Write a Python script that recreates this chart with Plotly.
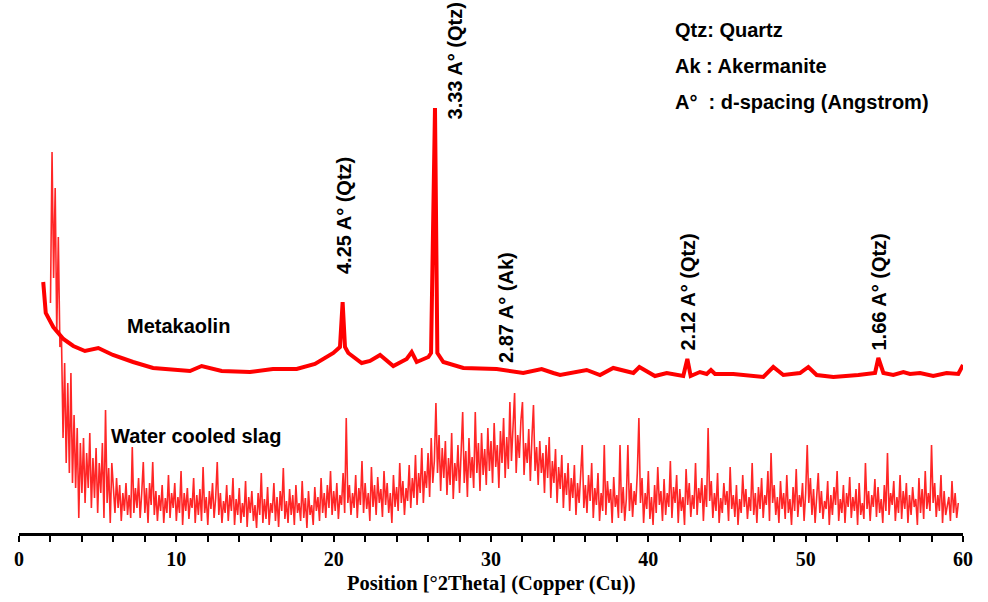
import numpy as np
import plotly.graph_objects as go

# ---- Metakaolin pattern (2Theta, intensity a.u.) ----
mk_x = [1.54, 1.70, 2.18, 2.82, 3.45, 4.19, 5.04, 5.97, 7.25, 8.52,
        10.87, 11.61, 12.88, 14.68, 16.14, 17.65, 18.81, 19.98, 20.40, 20.57,
        20.72, 20.93, 21.78, 22.31, 22.95, 23.79, 24.64, 24.96, 25.28, 26.02,
        26.19, 26.44, 26.59, 26.97, 28.24, 30.36, 32.05, 33.22, 33.96, 34.39,
        36.08, 36.93, 37.77, 39.05, 39.43, 40.42, 41.17, 42.22, 42.48, 42.69,
        43.28, 43.71, 43.98, 44.24, 45.40, 47.31, 47.94, 48.58, 49.64, 50.17,
        50.70, 51.76, 53.35, 54.41, 54.62, 54.94, 55.57, 56.21, 56.63, 57.27,
        58.11, 58.96, 59.70, 60.0]
mk_y = [251, 220, 206, 194, 187, 182, 185, 178, 171, 165,
        162, 167, 162, 161, 164, 164, 169, 180, 186, 231,
        186, 180, 170, 172, 178, 167, 174, 181, 171, 176,
        180, 425, 180, 171, 165, 164, 160, 164, 160, 158,
        163, 158, 165, 160, 166, 157, 160, 157, 174, 157,
        161, 159, 163, 159, 159, 156, 166, 158, 160, 166,
        158, 156, 158, 160, 175, 160, 158, 161, 159, 160,
        157, 160, 159, 168]

# ---- Water cooled slag pattern: scan start 2.0 deg, step 0.1 deg ----
slag_start = 2.0
slag_step = 0.1
slag_y = [
    230, 381, 255, 345, 200, 296, 186, 195, 95, 170,     # 2
    70, 150, 60, 160, 50, 118, 45, 105, 15, 90,          # 3
    40, 95, 30, 80, 45, 100, 25, 75, 35, 85,             # 4
    20, 70, 40, 90, 15, 123, 30, 65, 10, 70,             # 5
    45, 20, 55, 25, 48, 12, 40, 22, 50, 18,              # 6
    38, 15, 86, 20, 45, 25, 55, 15, 40, 71,              # 7
    20, 45, 10, 50, 28, 71, 18, 42, 12, 38,              # 8
    22, 48, 10, 35, 20, 58, 15, 40, 25, 50,              # 9
    12, 36, 20, 62, 8, 40, 22, 45, 14, 35,               # 10
    25, 55, 10, 38, 18, 44, 12, 66, 20, 36,              # 11
    8, 42, 24, 50, 15, 35, 71, 18, 40, 10,               # 12
    32, 20, 48, 12, 38, 22, 55, 8, 34, 18,               # 13
    45, 10, 30, 16, 52, 6, 36, 20, 42, 12,               # 14
    28, 5, 40, 18, 60, 10, 34, 14, 46, 8,                # 15
    30, 20, 50, 12, 36, 6, 42, 22, 65, 14,               # 16
    32, 10, 44, 18, 38, 8, 48, 20, 30, 12,               # 17
    52, 15, 35, 5, 42, 18, 28, 8, 46, 22,                # 18
    36, 12, 55, 20, 40, 15, 48, 25, 62, 18,              # 19
    42, 22, 50, 14, 38, 28, 60, 20, 115, 30,             # 20
    48, 18, 40, 25, 58, 15, 45, 28, 72, 20,              # 21
    50, 24, 40, 12, 66, 26, 48, 18, 56, 30,              # 22
    44, 16, 62, 28, 50, 20, 40, 10, 58, 26,              # 23
    46, 22, 70, 30, 52, 18, 45, 32, 68, 25,              # 24
    55, 35, 78, 28, 60, 40, 85, 30, 62, 45,              # 25
    80, 36, 95, 50, 72, 130, 60, 98, 42, 85,             # 26
    55, 92, 38, 75, 48, 100, 34, 70, 52, 88,             # 27
    40, 78, 121, 50, 82, 36, 95, 55, 76, 45,             # 28
    121, 60, 90, 42, 100, 58, 84, 48, 105, 62,           # 29
    92, 50, 110, 66, 88, 45, 102, 70, 115, 55,           # 30
    96, 64, 131, 72, 105, 140, 60, 98, 75, 112,          # 31
    131, 58, 90, 70, 104, 52, 95, 128, 62, 86,           # 32
    48, 92, 60, 80, 40, 88, 55, 96, 35, 72,              # 33
    50, 84, 30, 66, 44, 78, 25, 60, 38, 70,              # 34
    22, 55, 35, 68, 18, 50, 30, 62, 88, 25,              # 35
    48, 20, 58, 32, 70, 15, 45, 28, 60, 12,              # 36
    40, 22, 88, 18, 52, 30, 44, 10, 56, 26,              # 37
    38, 15, 88, 20, 46, 12, 34, 88, 22, 50,              # 38
    16, 42, 28, 60, 115, 30, 55, 10, 40, 24,             # 39
    62, 14, 36, 8, 48, 20, 66, 28, 42, 12,               # 40
    54, 18, 40, 26, 72, 15, 46, 30, 58, 10,              # 41
    44, 22, 36, 8, 64, 28, 50, 16, 38, 24,               # 42
    70, 18, 45, 30, 55, 12, 48, 26, 105, 32,             # 43
    52, 15, 40, 22, 60, 10, 35, 20, 50, 28,              # 44
    42, 12, 66, 24, 38, 16, 48, 8, 34, 20,               # 45
    58, 26, 44, 14, 36, 22, 70, 18, 40, 10,              # 46
    46, 24, 55, 15, 38, 28, 62, 12, 80, 30,              # 47
    48, 18, 36, 10, 52, 24, 40, 14, 58, 20,              # 48
    34, 8, 46, 22, 64, 16, 38, 26, 50, 12,               # 49
    40, 88, 30, 55, 18, 44, 10, 36, 60, 20,              # 50
    42, 14, 32, 24, 52, 8, 38, 18, 46, 28,               # 51
    62, 12, 34, 20, 48, 10, 40, 26, 56, 15,              # 52
    36, 22, 44, 8, 50, 18, 30, 14, 70, 24,               # 53
    42, 12, 38, 26, 54, 16, 46, 20, 34, 10,              # 54
    48, 22, 80, 18, 40, 28, 52, 12, 36, 20,              # 55
    58, 14, 42, 24, 50, 10, 38, 18, 46, 26,              # 56
    34, 8, 55, 20, 44, 14, 62, 24, 40, 22,               # 57
    88, 30, 50, 16, 38, 22, 58, 10, 42, 18,              # 58
    26, 36, 12, 52, 20, 40, 15, 30,                      # 59
]
slag_x = [round(slag_start + slag_step * i, 2) for i in range(len(slag_y))]

# ---- peak labels ----
peak_labels = ["4.25 A° (Qtz)", "3.33 A° (Qtz)", "2.87 A° (Ak)", "2.12 A° (Qtz)", "1.66 A° (Qtz)"]
peak_label_x = [20.66, 27.74, 30.95, 42.49, 54.63]
peak_label_y = [317, 472, 226, 241, 241]

key_lines = ["Qtz: Quartz", "Ak : Akermanite", "A°\u00a0\u00a0: d-spacing (Angstrom)"]
key_x = 41.57
key_y = [503, 467, 431]

sample_names = ["Metakaolin", "Water cooled slag"]
sample_x = [10.11, 11.25]
sample_y = [207, 97]

xtick_vals = [0, 10, 20, 30, 40, 50, 60]

fig = go.Figure()
fig.add_trace(go.Scatter(x=slag_x, y=slag_y, mode="lines",
                         line=dict(color="rgba(255,0,0,0.85)", width=1.6),
                         showlegend=False, hoverinfo="skip"))
fig.add_trace(go.Scatter(x=mk_x, y=mk_y, mode="lines",
                         line=dict(color="#ff0000", width=4),
                         showlegend=False, hoverinfo="skip"))

lab_font = dict(family="Liberation Sans, Arial, sans-serif", size=20, color="black", weight="bold")

for t, x, y in zip(peak_labels, peak_label_x, peak_label_y):
    fig.add_annotation(x=x, y=y, text=t, textangle=-90, showarrow=False,
                       font=lab_font, xanchor="center", yanchor="middle")

for t, y in zip(key_lines, key_y):
    fig.add_annotation(x=key_x, y=y, text=t, showarrow=False, font=lab_font,
                       xanchor="left", yanchor="middle")

for t, x, y in zip(sample_names, sample_x, sample_y):
    fig.add_annotation(x=x, y=y, text=t, showarrow=False, font=lab_font,
                       xanchor="center", yanchor="middle")

fig.add_annotation(xref="paper", yref="paper", x=0.5, y=0, yshift=-50,
                   text="Position [°2Theta] (Copper (Cu))", showarrow=False,
                   font=dict(family="Liberation Serif, Times New Roman, serif", size=20.5,
                             color="black", weight="bold"),
                   xanchor="center", yanchor="middle")

fig.update_layout(
    width=988, height=602,
    margin=dict(l=19, r=25, t=0, b=69),
    paper_bgcolor="white", plot_bgcolor="white",
    xaxis=dict(range=[0, 60], tickvals=xtick_vals, showgrid=False, zeroline=False,
               showline=True, linecolor="black", linewidth=2.5,
               ticks="outside", ticklen=6, tickwidth=2, tickcolor="black",
               minor=dict(dtick=2, ticks="outside", ticklen=6, tickwidth=2, tickcolor="black"),
               tickfont=dict(family="Liberation Serif, Times New Roman, serif", size=20,
                             color="black", weight="bold"),
               fixedrange=True),
    yaxis=dict(range=[0, 533], visible=False, fixedrange=True),
)

fig.write_html("out.html")
